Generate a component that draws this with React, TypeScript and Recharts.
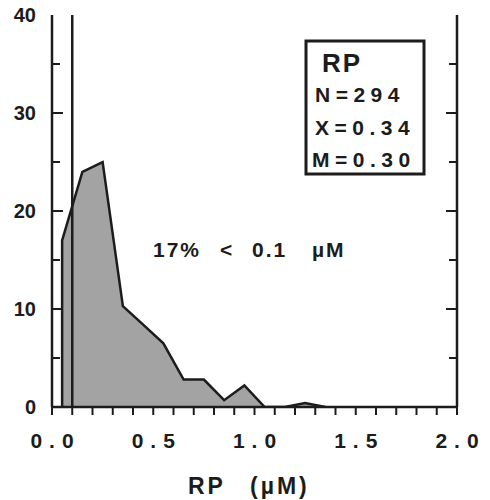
import { ComposedChart, Area, XAxis, YAxis, ReferenceLine } from "recharts";

const rpValues = [0.05, 0.05, 0.15, 0.25, 0.35, 0.45, 0.55, 0.65, 0.75, 0.85, 0.95, 1.05, 1.15, 1.25, 1.35];
const counts = [0, 17, 24, 25, 10.3, 8.4, 6.5, 2.8, 2.8, 0.7, 2.2, 0, 0, 0.4, 0];

const xTicks = [0, 0.1, 0.2, 0.3, 0.4, 0.5, 0.6, 0.7, 0.8, 0.9, 1.0, 1.1, 1.2, 1.3, 1.4, 1.5, 1.6, 1.7, 1.8, 1.9, 2.0];
const xMajor = [0, 0.5, 1.0, 1.5, 2.0];
const xLabels = ["0.0", "0.5", "1.0", "1.5", "2.0"];
const yLabels = [0, 10, 20, 30, 40];
const yMinor = [5, 15, 25, 35];
const yMajorInner = [10, 20, 30];

const cutoff = 0.1;
const statLines = ["N=294", "X=0.34", "M=0.30"];
const note = ["17%", "<", "0.1", "µM"];

const INK = "#1c1c1c";
const FONT = "'Liberation Sans', Arial, sans-serif";
const tickStroke = { stroke: INK, strokeWidth: 2 };
const noLabel = () => <g />;

const data = rpValues.map((rp, i) => ({ rp, count: counts[i] }));

function BottomLabel(props: any) {
  const v = Number(props.payload.value);
  const label = xLabels.find((l) => Math.abs(parseFloat(l) - v) < 1e-6);
  if (!label) return <g />;
  return (
    <text
      x={Number(props.x) + 3.5}
      y={448}
      textAnchor="middle"
      fontFamily={FONT}
      fontWeight="bold"
      fontSize={21}
      letterSpacing={7}
      fill={INK}
    >
      {label}
    </text>
  );
}

function LeftLabel(props: any) {
  return (
    <text x={36} y={Number(props.y) + 7} textAnchor="end" fontFamily={FONT} fontWeight="bold" fontSize={20} fill={INK}>
      {props.payload.value}
    </text>
  );
}

const xDomain: [number, number] = [0, 2];
const yDomain: [number, number] = [0, 40];

// inward tick-only axis on the left or right frame edge
const innerTicks = (id: string, side: "left" | "right", ticks: number[], size: number) => (
  <YAxis
    key={id}
    yAxisId={id}
    orientation={side}
    type="number"
    domain={yDomain}
    allowDataOverflow
    ticks={ticks}
    interval={0}
    mirror
    width={1}
    tickSize={size}
    tickLine={tickStroke}
    tick={noLabel}
    axisLine={false}
  />
);

export default function App() {
  return (
    <div style={{ position: "absolute", left: 0, top: 0, width: 490, height: 500, background: "#fff" }}>
      <ComposedChart width={490} height={500} data={data} margin={{ top: 15, right: 0, bottom: 0, left: 0 }}>
        {/* long ticks at every 0.5 */}
        <XAxis
          xAxisId="major"
          type="number"
          domain={xDomain}
          allowDataOverflow
          ticks={xMajor}
          interval={0}
          height={0}
          tickSize={12}
          tickLine={tickStroke}
          tick={noLabel}
          axisLine={false}
        />
        <XAxis
          xAxisId="b"
          dataKey="rp"
          type="number"
          domain={xDomain}
          allowDataOverflow
          ticks={xTicks}
          interval={0}
          height={93}
          tickSize={8}
          tickMargin={0}
          tickLine={tickStroke}
          axisLine={{ stroke: INK, strokeWidth: 2.5 }}
          tick={BottomLabel}
        />
        <XAxis
          xAxisId="t"
          orientation="top"
          type="number"
          domain={xDomain}
          allowDataOverflow
          height={0}
          tick={false}
          tickLine={false}
          axisLine={{ stroke: INK, strokeWidth: 2.5 }}
        />
        <YAxis
          yAxisId="l"
          type="number"
          domain={yDomain}
          allowDataOverflow
          ticks={yLabels}
          interval={0}
          width={52}
          tickSize={0}
          tickMargin={0}
          tickLine={false}
          axisLine={{ stroke: INK, strokeWidth: 2.5 }}
          tick={LeftLabel}
        />
        <YAxis
          yAxisId="r"
          orientation="right"
          type="number"
          domain={yDomain}
          allowDataOverflow
          width={33}
          tick={false}
          tickLine={false}
          axisLine={{ stroke: INK, strokeWidth: 2.5 }}
        />
        {innerTicks("lMinor", "left", yMinor, 7)}
        {innerTicks("lMajor", "left", yMajorInner, 11)}
        {innerTicks("rMinor", "right", yMinor, 7)}
        {innerTicks("rMajor", "right", yMajorInner, 11)}
        <Area
          xAxisId="b"
          yAxisId="l"
          type="linear"
          dataKey="count"
          stroke={INK}
          strokeWidth={2.5}
          fill="#a3a3a3"
          fillOpacity={1}
          isAnimationActive={false}
          dot={false}
          activeDot={false}
        />
        <ReferenceLine xAxisId="b" yAxisId="l" x={cutoff} stroke={INK} strokeWidth={2.5} />
      </ComposedChart>

      <svg
        width={490}
        height={500}
        style={{ position: "absolute", left: 0, top: 0, pointerEvents: "none" }}
        fontFamily={FONT}
        fontWeight="bold"
        fill={INK}
      >
        <rect x={306} y={41} width={118} height={133} fill="none" stroke={INK} strokeWidth={3} />
        <text x={322} y={72} fontSize={26} letterSpacing={2}>
          RP
        </text>
        {statLines.map((s, i) => (
          <text key={s} x={i === 2 ? 312 : 315} y={102 + i * 32.5} fontSize={21} letterSpacing={5.5}>
            {s}
          </text>
        ))}
        <text y={257} fontSize={21} letterSpacing={2}>
          <tspan x={153}>{note[0]}</tspan>
          <tspan x={220}>{note[1]}</tspan>
          <tspan x={252}>{note[2]}</tspan>
          <tspan x={312}>{note[3]}</tspan>
        </text>
        <text y={494} fontSize={23} letterSpacing={3}>
          <tspan x={188}>RP</tspan>
          <tspan x={250}>(µM)</tspan>
        </text>
      </svg>
    </div>
  );
}
